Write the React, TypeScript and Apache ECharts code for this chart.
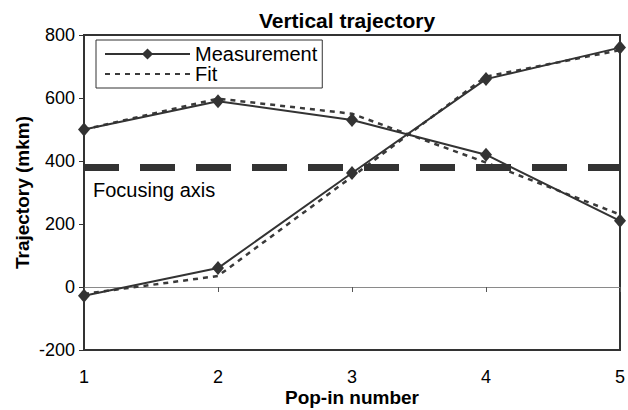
import React, { useEffect, useRef } from "react";
import * as echarts from "echarts";

const popIn = [1, 2, 3, 4, 5];
const measurementA = [500, 590, 530, 420, 210];
const measurementB = [-28, 60, 362, 660, 760];
const fitA = [500, 598, 550, 395, 230];
const fitB = [-22, 35, 350, 668, 752];
const focusingAxis = 380;
const yTicks = { min: -200, max: 800, interval: 200 };

const pairs = (ys: number[]) => popIn.map((x, i) => [x, ys[i]]);

export default function App() {
  const ref = useRef<HTMLDivElement>(null);
  useEffect(() => {
    if (!ref.current) return;
    const chart = echarts.init(ref.current, null, { renderer: "svg" });
    const font = "'Liberation Sans', Arial, sans-serif";
    const dark = "#333333";
    chart.setOption({
      animation: false,
      textStyle: { fontFamily: font },
      title: {
        text: "Vertical trajectory",
        left: 342,
        textAlign: "center",
        top: 5,
        textStyle: { fontFamily: font, fontSize: 21, fontWeight: "bold", color: "#000" },
      },
      legend: {
        orient: "vertical",
        left: 96,
        top: 40,
        padding: [4, 5, 4, 8],
        itemGap: 0,
        itemWidth: 85,
        itemHeight: 14,
        borderColor: dark,
        borderWidth: 1,
        backgroundColor: "#fff",
        data: [
          { name: "Measurement" },
          { name: "Fit", itemStyle: { opacity: 0, color: "rgba(0,0,0,0)", borderWidth: 0 } },
        ],
        textStyle: { fontFamily: font, fontSize: 20, color: "#000" },
      },
      grid: {
        left: 84,
        right: 8,
        top: 35,
        bottom: 60,
        outerBoundsMode: "none",
        show: true,
        borderColor: dark,
        borderWidth: 2,
        backgroundColor: "#fff",
      },
      xAxis: [
        {
          type: "value",
          min: 1,
          max: 5,
          interval: 1,
          position: "bottom",
          name: "Pop-in number",
          nameLocation: "middle",
          nameGap: 38,
          nameMoveOverlap: false,
          nameTextStyle: { fontFamily: font, fontSize: 19, fontWeight: "bold", color: "#000" },
          axisLine: { show: true, onZero: false, lineStyle: { color: dark, width: 2 } },
          axisTick: { show: false },
          splitLine: { show: false },
          axisLabel: { margin: 18, fontFamily: font, fontSize: 18, color: "#000" },
        },
        {
          type: "value",
          min: 1,
          max: 5,
          interval: 1,
          position: "bottom",
          axisLine: { show: true, onZero: true, onZeroAxisIndex: 0, lineStyle: { color: "#8a8a8a", width: 1 } },
          axisTick: { show: true, length: 5, lineStyle: { color: "#555", width: 1 } },
          splitLine: { show: false },
          axisLabel: { show: false },
        },
      ],
      yAxis: {
        type: "value",
        min: yTicks.min,
        max: yTicks.max,
        interval: yTicks.interval,
        name: "Trajectory (mkm)",
        nameLocation: "middle",
        nameGap: 52,
        nameMoveOverlap: false,
        nameTextStyle: { fontFamily: font, fontSize: 19, fontWeight: "bold", color: "#000" },
        axisLine: { show: true, onZero: false, lineStyle: { color: dark, width: 2 } },
        axisTick: { show: true, length: 5, lineStyle: { color: dark, width: 1 } },
        splitLine: { show: false },
        axisLabel: { margin: 9, fontFamily: font, fontSize: 18, color: "#000" },
      },
      series: [
        {
          name: "Fit",
          type: "line",
          data: pairs(fitA),
          showSymbol: false,
          symbol: "none",
          lineStyle: { color: "#3a3a3a", width: 2.5, type: [5, 5] },
          itemStyle: { color: "#3a3a3a" },
          z: 2,
        },
        {
          name: "Fit",
          type: "line",
          data: pairs(fitB),
          showSymbol: false,
          symbol: "none",
          lineStyle: { color: "#3a3a3a", width: 2.5, type: [5, 5] },
          itemStyle: { color: "#3a3a3a" },
          z: 2,
        },
        {
          name: "Measurement",
          type: "line",
          data: pairs(measurementA),
          symbol: "diamond",
          symbolSize: [12, 14],
          lineStyle: { color: dark, width: 2 },
          itemStyle: { color: dark },
          z: 3,
          markLine: {
            silent: true,
            symbol: "none",
            label: { show: false },
            lineStyle: { color: dark, width: 7, type: [35, 21] },
            data: [{ yAxis: focusingAxis }],
          },
        },
        {
          name: "Measurement",
          type: "line",
          data: pairs(measurementB),
          symbol: "diamond",
          symbolSize: [12, 14],
          lineStyle: { color: dark, width: 2 },
          itemStyle: { color: dark },
          z: 3,
        },
      ],
      graphic: [
        {
          type: "text",
          left: 93,
          top: 180,
          style: { text: "Focusing axis", fontFamily: font, fontSize: 20, fill: "#000" },
        },
      ],
    });
    return () => chart.dispose();
  }, []);
  return (
    <div
      ref={ref}
      style={{ position: "fixed", left: 0, top: 0, width: 628, height: 410, background: "#fff" }}
    />
  );
}
